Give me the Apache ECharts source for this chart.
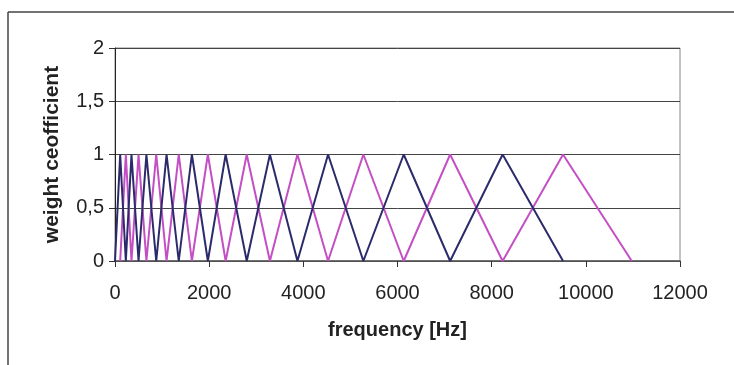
<!DOCTYPE html>
<html>
<head>
<meta charset="utf-8">
<script src="https://cdn.jsdelivr.net/npm/echarts@6/dist/echarts.min.js"></script>
<style>
html,body{margin:0;padding:0;background:#fff;}
#chart{width:734px;height:365px;}
</style>
</head>
<body>
<div id="chart"></div>
<script>
// Filter vertices (frequency in Hz, weight 0/1)
var navyFreq = [0, 110, 230, 350, 500, 667, 876, 1095, 1354, 1633, 1972, 2350, 2798, 3290, 3875, 4525, 5275, 6132, 7118, 8233, 9516];
var navyWeight = [0, 1, 0, 1, 0, 1, 0, 1, 0, 1, 0, 1, 0, 1, 0, 1, 0, 1, 0, 1, 0];
var magentaFreq = [110, 230, 350, 500, 667, 876, 1095, 1354, 1633, 1972, 2350, 2798, 3290, 3875, 4525, 5275, 6132, 7118, 8233, 9516, 10975];
var magentaWeight = [0, 1, 0, 1, 0, 1, 0, 1, 0, 1, 0, 1, 0, 1, 0, 1, 0, 1, 0, 1, 0];
var xTicks = [0, 2000, 4000, 6000, 8000, 10000, 12000];
var yTicks = ['0', '0,5', '1', '1,5', '2'];

function pairs(xs, ys) { return xs.map(function (x, i) { return [x, ys[i]]; }); }

var chart = echarts.init(document.getElementById('chart'), null, {renderer: 'canvas'});
chart.setOption({
  animation: false,
  backgroundColor: '#ffffff',
  textStyle: {fontFamily: 'Liberation Sans, Arial, sans-serif'},
  graphic: [
    {type: 'line', shape: {x1: 8, y1: 12, x2: 734, y2: 12}, style: {stroke: '#444', lineWidth: 1.5}},
    {type: 'line', shape: {x1: 8, y1: 12, x2: 8, y2: 365}, style: {stroke: '#444', lineWidth: 1.5}}
  ],
  grid: {left: 115, right: 54, top: 48, bottom: 104, show: true, borderColor: '#888', borderWidth: 1, backgroundColor: 'transparent'},
  xAxis: {
    type: 'value', min: 0, max: 12000, interval: 2000,
    name: 'frequency [Hz]', nameLocation: 'middle', nameGap: 59,
    nameTextStyle: {fontSize: 20, fontWeight: 'bold', color: '#222', fontFamily: 'Liberation Sans, Arial, sans-serif'},
    axisLine: {show: true, lineStyle: {color: '#555', width: 1.5}},
    axisTick: {show: true, inside: false, length: 6, lineStyle: {color: '#333'}},
    axisLabel: {fontSize: 20, color: '#222', margin: 22, formatter: function (v) { return xTicks.indexOf(v) >= 0 ? String(v) : ''; }},
    splitLine: {show: false}
  },
  yAxis: {
    type: 'value', min: 0, max: 2, interval: 0.5,
    name: 'weight ceofficient', nameLocation: 'middle', nameGap: 52,
    nameTextStyle: {fontSize: 21, fontWeight: 'bold', color: '#222', fontFamily: 'Liberation Sans, Arial, sans-serif'},
    axisLine: {show: true, lineStyle: {color: '#222', width: 1}},
    axisTick: {show: true, inside: false, length: 6, lineStyle: {color: '#333'}},
    axisLabel: {fontSize: 20, color: '#222', margin: 11, formatter: function (v) { return yTicks[Math.round(v / 0.5)]; }},
    splitLine: {show: true, lineStyle: {color: '#444', width: 1}}
  },
  series: [
    {type: 'line', data: pairs(navyFreq, navyWeight), showSymbol: false, symbol: 'none',
     lineStyle: {color: '#2b2b6b', width: 2}, itemStyle: {color: '#2b2b6b'}, z: 3},
    {type: 'line', data: pairs(magentaFreq, magentaWeight), showSymbol: false, symbol: 'none',
     lineStyle: {color: '#c44fc4', width: 2}, itemStyle: {color: '#c44fc4'}, z: 2}
  ]
});
</script>
</body>
</html>
